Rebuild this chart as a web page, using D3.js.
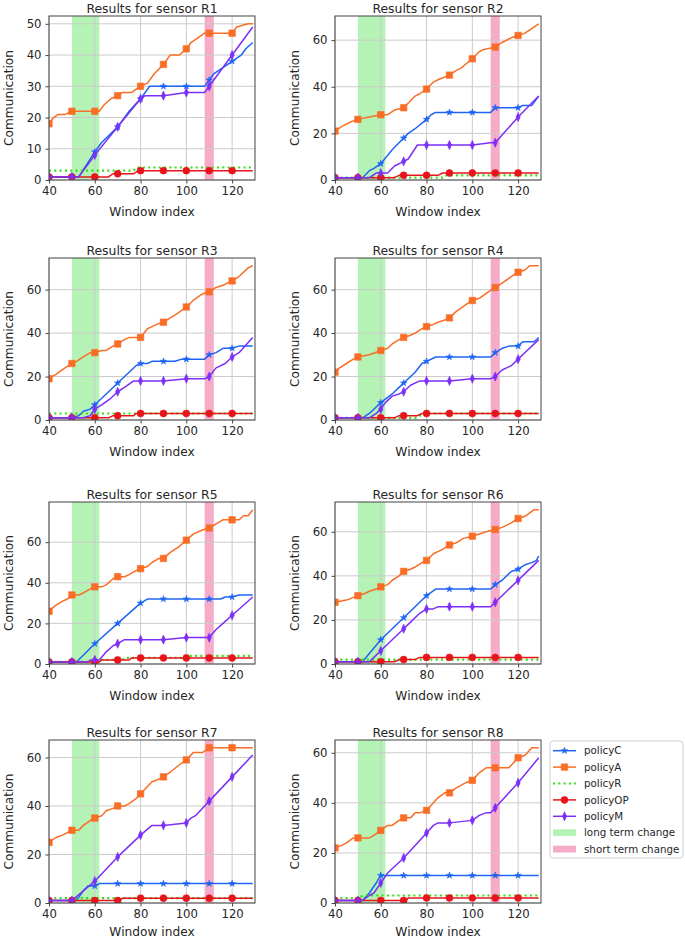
<!DOCTYPE html>
<html><head><meta charset="utf-8">
<script src="https://cdn.jsdelivr.net/npm/d3@7"></script>
<style>body{margin:0;background:#fff}svg{display:block}text{font-family:"DejaVu Sans",sans-serif;fill:#262626}</style>
</head><body><svg id="chart" width="685" height="939"></svg>
<script>
const sensors = ["R1","R2","R3","R4","R5","R6","R7","R8"];
const policyNames = ["policyC","policyA","policyR","policyOP","policyM"];
const spanNames = ["long term change","short term change"];
const xDomain = [40,130];
const xTicks = [40,60,80,100,120];
const yTicks = [[0,10,20,30,40,50],[0,20,40,60],[0,20,40,60],[0,20,40,60],[0,20,40,60],[0,20,40,60],[0,20,40,60],[0,20,40,60]];
const longTermSpan = [50,62];
const shortTermSpan = [108,112];

const policyC = [
 [[40,1],[50,1],[53,1],[60,9],[63,12],[70,17],[75,22],[80,26],[84,30],[90,30],[100,30],[108,30],[110,32],[112,34],[114,35],[116,36],[120,38],[122,39],[124,40],[126,42],[129,44]],
 [[40,1],[50,1],[52,1],[55,4],[57,5],[60,7],[65,13],[70,18],[72,20],[75,22],[80,26],[82,28],[84,29],[90,29],[100,29],[108,29],[110,31],[120,31],[122,32],[126,32],[129,36]],
 [[40,1],[50,1],[53,2],[55,4],[58,5],[60,7],[65,12],[70,17],[75,22],[78,25],[80,26],[83,26],[85,27],[90,27],[95,27],[98,28],[100,28],[108,28],[110,30],[113,31],[116,33],[120,33],[123,34],[129,34]],
 [[40,1],[50,1],[52,1],[55,3],[58,6],[60,8],[65,12],[68,15],[70,17],[72,19],[75,22],[78,26],[80,27],[84,29],[90,29],[100,29],[108,29],[110,31],[113,33],[116,34],[120,34],[122,36],[127,36],[129,38]],
 [[40,1],[50,1],[52,1],[60,10],[70,20],[80,30],[83,32],[90,32],[100,32],[110,32],[115,32],[117,33],[120,33],[123,34],[129,34]],
 [[40,1],[50,1],[52,1],[60,11],[65,16],[70,21],[75,26],[78,29],[80,31],[84,34],[90,34],[100,34],[108,34],[110,36],[113,38],[117,42],[120,43],[123,45],[126,46],[128,47],[129,49]],
 [[40,1],[50,1],[52,1],[55,5],[57,7],[59,7],[60,7],[62,8],[70,8],[80,8],[90,8],[100,8],[110,8],[120,8],[129,8]],
 [[40,1],[50,1],[52,1],[55,4],[58,8],[60,11],[70,11],[80,11],[90,11],[100,11],[110,11],[120,11],[129,11]]
];
const policyA = [
 [[40,18],[42,20],[44,21],[47,21],[50,22],[60,22],[62,22],[64,24],[67,26],[70,27],[72,28],[76,28],[78,29],[80,30],[83,31],[86,34],[90,37],[93,40],[97,40],[100,42],[102,44],[106,46],[108,47],[110,47],[120,47],[122,49],[127,50],[129,50]],
 [[40,21],[43,23],[47,25],[50,26],[55,27],[60,28],[63,28],[66,30],[70,31],[73,34],[75,36],[77,37],[80,39],[83,42],[85,43],[90,45],[93,47],[95,48],[100,52],[103,55],[105,56],[110,57],[113,59],[117,61],[120,62],[123,63],[129,67]],
 [[40,19],[43,21],[47,24],[50,26],[52,27],[55,29],[58,31],[60,31],[63,32],[65,32],[68,34],[70,35],[73,37],[75,38],[78,38],[80,38],[83,42],[85,43],[87,44],[90,45],[93,47],[96,49],[100,52],[103,55],[107,58],[110,59],[113,61],[116,62],[120,64],[123,66],[127,70],[129,71]],
 [[40,22],[42,24],[45,26],[48,28],[50,29],[55,30],[60,32],[63,33],[65,35],[68,37],[70,38],[73,39],[75,40],[78,42],[80,43],[83,44],[85,45],[88,46],[90,47],[93,50],[97,53],[100,55],[103,56],[107,59],[110,61],[113,63],[117,66],[120,68],[123,69],[125,71],[129,71]],
 [[40,26],[43,29],[46,31],[48,32],[50,34],[53,34],[55,35],[58,37],[60,38],[63,38],[65,39],[68,42],[70,43],[73,43],[75,44],[78,46],[80,47],[83,48],[85,50],[88,52],[90,52],[93,55],[97,58],[100,61],[103,64],[107,66],[110,67],[113,69],[116,71],[120,71],[123,71],[125,73],[127,73],[129,76]],
 [[40,28],[45,29],[50,31],[53,32],[55,33],[58,34],[60,35],[63,36],[65,38],[68,40],[70,42],[73,43],[75,44],[78,46],[80,47],[83,50],[87,52],[90,54],[93,55],[96,57],[100,58],[103,59],[106,60],[110,61],[113,62],[117,64],[120,66],[123,67],[127,70],[129,70]],
 [[40,25],[43,27],[46,28],[48,29],[50,30],[53,30],[55,32],[58,34],[60,35],[63,36],[65,38],[68,39],[70,40],[73,40],[75,41],[78,43],[80,45],[83,48],[85,50],[88,51],[90,52],[93,54],[97,57],[100,59],[103,62],[107,62],[110,64],[120,64],[129,64]],
 [[40,22],[43,23],[45,24],[48,26],[50,26],[55,26],[57,27],[60,29],[63,31],[65,31],[68,33],[70,34],[73,34],[75,36],[77,36],[80,37],[83,40],[85,42],[88,44],[90,44],[93,46],[97,48],[100,49],[103,52],[106,54],[110,54],[113,54],[116,54],[118,56],[120,58],[123,59],[126,62],[129,62]]
];
const policyR = [
 [[40,3],[77,3],[78,4],[129,4]],
 [[40,1],[87,1],[88,2],[129,2]],
 [[40,3],[129,3]],
 [[40,1],[76,1],[77,2],[78,3],[129,3]],
 [[40,1],[62,1],[63,2],[72,2],[73,3],[98,3],[99,4],[129,4]],
 [[40,2],[129,2]],
 [[40,2],[129,2]],
 [[40,2],[51,2],[52,3],[129,3]]
];
const policyOP = [
 [[40,1],[50,1],[60,1],[66,1],[68,2],[70,2],[77,2],[79,3],[80,3],[90,3],[100,3],[110,3],[120,3],[129,3]],
 [[40,1],[50,1],[60,1],[66,1],[68,2],[70,2],[80,2],[85,2],[87,3],[90,3],[100,3],[110,3],[120,3],[129,3]],
 [[40,1],[50,1],[60,1],[66,1],[68,2],[70,2],[77,2],[78,3],[80,3],[90,3],[100,3],[110,3],[120,3],[129,3]],
 [[40,1],[50,1],[60,1],[66,1],[68,2],[70,2],[76,2],[78,3],[80,3],[90,3],[100,3],[110,3],[120,3],[129,3]],
 [[40,1],[50,1],[60,1],[62,1],[63,2],[70,2],[75,2],[76,3],[80,3],[90,3],[100,3],[110,3],[120,3],[129,3]],
 [[40,1],[50,1],[60,1],[66,1],[68,2],[70,2],[75,2],[77,3],[80,3],[90,3],[100,3],[110,3],[120,3],[129,3]],
 [[40,1],[50,1],[60,1],[70,1],[71,1],[72,2],[80,2],[90,2],[100,2],[110,2],[120,2],[129,2]],
 [[40,1],[50,1],[60,1],[70,1],[71,1],[72,2],[80,2],[90,2],[100,2],[110,2],[120,2],[129,2]]
];
const policyM = [
 [[40,1],[50,1],[53,1],[60,8],[70,17],[80,26],[82,27],[90,27],[100,28],[108,28],[110,30],[120,40],[129,49]],
 [[40,1],[50,1],[55,1],[58,3],[60,3],[63,3],[66,6],[70,8],[72,9],[76,15],[80,15],[90,15],[100,15],[108,16],[110,16],[120,27],[129,36]],
 [[40,1],[50,1],[55,1],[58,2],[60,5],[63,7],[67,10],[70,13],[73,15],[77,18],[80,18],[90,18],[100,19],[108,19],[110,20],[113,24],[117,26],[120,29],[123,31],[129,38]],
 [[40,1],[50,1],[55,1],[58,3],[60,5],[62,8],[65,11],[68,12],[70,13],[73,16],[77,18],[80,18],[90,18],[100,19],[108,19],[110,20],[113,23],[117,25],[120,28],[122,30],[129,37]],
 [[40,1],[50,1],[57,1],[58,2],[60,2],[62,2],[65,6],[68,9],[70,10],[73,12],[80,12],[90,12],[100,13],[108,13],[110,13],[113,17],[117,21],[120,24],[123,27],[129,33]],
 [[40,1],[50,1],[55,1],[57,3],[60,6],[65,11],[70,16],[73,19],[77,23],[80,25],[83,25],[85,26],[90,26],[100,26],[108,26],[110,28],[113,31],[117,35],[120,38],[123,41],[129,47]],
 [[40,1],[50,1],[60,9],[70,19],[80,28],[85,32],[90,32],[100,33],[102,35],[104,36],[110,42],[120,52],[129,61]],
 [[40,1],[50,1],[52,1],[55,3],[57,4],[60,8],[63,12],[70,18],[77,25],[80,28],[83,31],[85,32],[90,32],[100,33],[103,35],[106,36],[108,36],[110,38],[120,48],[129,58]]
];

// ---- styling / layout (not data) ----
const seriesData = [policyC, policyA, policyR, policyOP, policyM];
const styles = [
  {color:"#1e64f5", marker:"star"},
  {color:"#f96d26", marker:"square"},
  {color:"#33dd11", marker:null, dash:"2,3.3", width:2.2},
  {color:"#e8141c", marker:"circle"},
  {color:"#7b2ff7", marker:"thin"}
];
const spanColors = ["#b5f2b5","#f6abc9"];

const svg = d3.select("#chart");
const colLeft = [49, 335], panelW = 206;
const rowTop = [16, 258, 502, 740], rowBot = [180, 420, 664, 903];

function markerPath(kind){
  if(kind==="star") return d3.symbol(d3.symbolStar, 13)();
  if(kind==="square") return d3.symbol(d3.symbolSquare, 42)();
  if(kind==="circle") return d3.symbol(d3.symbolCircle, 38)();
  if(kind==="thin") return "M0,-4.6L2.1,0L0,4.6L-2.1,0Z";
  return null;
}

sensors.forEach((name, i) => {
  const col = i % 2, row = Math.floor(i / 2);
  const L = colLeft[col], T = rowTop[row], B = rowBot[row];
  const x = d3.scaleLinear().domain(xDomain).range([L, L + panelW]);
  const ymax = d3.max(seriesData, s => d3.max(s[i], d => d[1])) * 1.05;
  const y = d3.scaleLinear().domain([0, ymax]).range([B, T]);
  const g = svg.append("g");
  const clipId = "clip" + i;
  svg.append("clipPath").attr("id", clipId).append("rect")
     .attr("x", L).attr("y", T).attr("width", panelW).attr("height", B - T);

  // spans
  [longTermSpan, shortTermSpan].forEach((sp, k) => {
    g.append("rect").attr("x", x(sp[0])).attr("y", T).attr("width", x(sp[1]) - x(sp[0]))
     .attr("height", B - T).attr("fill", spanColors[k]);
  });
  // grid
  g.append("g").selectAll("line").data(xTicks).join("line")
    .attr("x1", d => x(d)).attr("x2", d => x(d)).attr("y1", T).attr("y2", B)
    .attr("stroke", "#cbcbcb").attr("stroke-width", 1);
  g.append("g").selectAll("line").data(yTicks[i]).join("line")
    .attr("y1", d => y(d)).attr("y2", d => y(d)).attr("x1", L).attr("x2", L + panelW)
    .attr("stroke", "#cbcbcb").attr("stroke-width", 1);

  // series
  const line = d3.line().x(d => x(d[0])).y(d => y(d[1]));
  const sg = g.append("g").attr("clip-path", `url(#${clipId})`);
  seriesData.forEach((s, k) => {
    const st = styles[k];
    sg.append("path").datum(s[i]).attr("d", line).attr("fill", "none")
      .attr("stroke", st.color).attr("stroke-width", st.width || 1.5)
      .attr("stroke-dasharray", st.dash || null).attr("stroke-linejoin", "round");
    if (st.marker) {
      const pts = s[i].filter(d => d[0] % 10 === 0 && d[0] <= 120);
      sg.selectAll(null).data(pts).join("path")
        .attr("d", markerPath(st.marker))
        .attr("transform", d => `translate(${x(d[0])},${y(d[1])})`)
        .attr("fill", st.color).attr("stroke", st.color).attr("stroke-width", 0.6);
    }
  });

  // spine
  g.append("rect").attr("x", L).attr("y", T).attr("width", panelW).attr("height", B - T)
    .attr("fill", "none").attr("stroke", "#444").attr("stroke-width", 1);

  // axes
  const xa = g.append("g").attr("transform", `translate(0,${B})`)
    .call(d3.axisBottom(x).tickValues(xTicks).tickSizeInner(3.5).tickSizeOuter(0).tickPadding(3));
  const ya = g.append("g").attr("transform", `translate(${L},0)`)
    .call(d3.axisLeft(y).tickValues(yTicks[i]).tickSizeInner(3.5).tickSizeOuter(0).tickPadding(4));
  [xa, ya].forEach(a => {
    a.select(".domain").remove();
    a.selectAll("line").attr("stroke", "#444");
    a.selectAll("text").attr("font-size", "11.7px").attr("font-family", "DejaVu Sans").attr("fill", "#262626");
  });

  // title & labels
  g.append("text").attr("x", L + panelW / 2).attr("y", T - 2.7).attr("text-anchor", "middle")
    .attr("font-size", "12.4px").text("Results for sensor " + name);
  g.append("text").attr("x", L + panelW / 2).attr("y", Math.min(B + 36, 936)).attr("text-anchor", "middle")
    .attr("font-size", "12.2px").text("Window index");
  g.append("text").attr("transform", `translate(${L - 36.3},${(T + B) / 2}) rotate(-90)`)
    .attr("text-anchor", "middle").attr("font-size", "12.2px").text("Communication");
});

// legend
const lg = svg.append("g");
const LX = 550, LY = 741;
lg.append("rect").attr("x", LX).attr("y", LY).attr("width", 133).attr("height", 117)
  .attr("rx", 3).attr("fill", "#fff").attr("stroke", "#d0d0d0").attr("stroke-width", 1);
const legendItems = policyNames.map((n, k) => ({name: n, k: k, type: "line"}))
  .concat(spanNames.map((n, k) => ({name: n, k: k, type: "span"})));
legendItems.forEach((it, j) => {
  const cy = LY + 9.7 + j * 16.4;
  if (it.type === "line") {
    const st = styles[it.k];
    lg.append("line").attr("x1", LX + 3).attr("x2", LX + 26).attr("y1", cy).attr("y2", cy)
      .attr("stroke", st.color).attr("stroke-width", st.width || 1.5).attr("stroke-dasharray", st.dash || null);
    if (st.marker) lg.append("path").attr("d", markerPath(st.marker))
      .attr("transform", `translate(${LX + 14.5},${cy})`).attr("fill", st.color).attr("stroke", st.color).attr("stroke-width", 0.6);
  } else {
    lg.append("rect").attr("x", LX + 3).attr("y", cy - 3.4).attr("width", 23).attr("height", 6.8)
      .attr("fill", spanColors[it.k]);
  }
  lg.append("text").attr("x", LX + 34).attr("y", cy + 3.7).attr("font-size", "10.3px").text(it.name);
});
</script>
</body></html>
